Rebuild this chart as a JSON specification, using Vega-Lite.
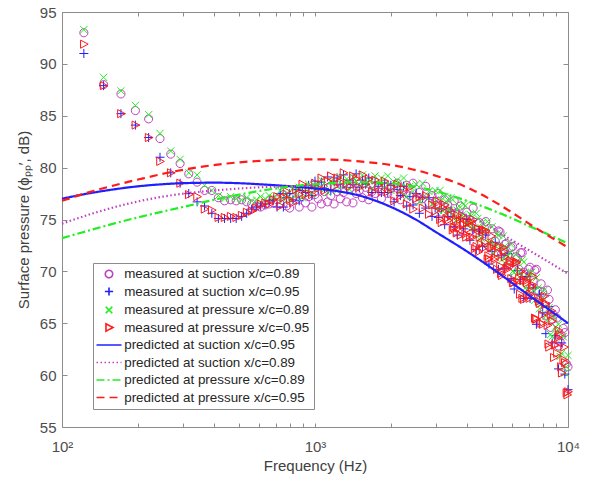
{
"$schema": "https://vega.github.io/schema/vega-lite/v6.json",
"width": 506, "height": 415,
"autosize": {"type": "none"},
"padding": {"left": 62, "top": 12, "right": 22, "bottom": 52},
"background": "white",
"config": {
  "view": {"stroke": "#8c8c8c", "strokeWidth": 1},
  "axis": {"grid": false, "domain": false, "tickColor": "#8c8c8c", "tickWidth": 1, "labelColor": "#4d4d4d", "titleColor": "#404040", "labelFont": "Liberation Sans", "titleFont": "Liberation Sans", "labelFontSize": 15, "titleFontSize": 15, "titleFontWeight": "normal"}
},
"datasets": {
"measured": [
{"s":"a","f":122,"v":93.0},{"s":"a","f":146,"v":88.0},{"s":"a","f":171,"v":87.1},{"s":"a","f":195,"v":85.5},{"s":"a","f":220,"v":84.7},{"s":"a","f":244,"v":82.8},{"s":"a","f":269,"v":81.3},{"s":"a","f":293,"v":80.4},{"s":"a","f":317,"v":79.4},{"s":"a","f":342,"v":78.6},{"s":"a","f":366,"v":77.8},{"s":"a","f":391,"v":77.8},{"s":"a","f":415,"v":77.1},{"s":"a","f":439,"v":76.8},{"s":"a","f":464,"v":76.9},{"s":"a","f":488,"v":76.8},{"s":"a","f":513,"v":76.9},{"s":"a","f":537,"v":76.7},{"s":"a","f":562,"v":76.5},{"s":"a","f":586,"v":76.3},{"s":"a","f":610,"v":76.2},{"s":"a","f":635,"v":76.4},{"s":"a","f":659,"v":76.5},{"s":"a","f":684,"v":76.6},
{"s":"a","f":708,"v":76.9},{"s":"a","f":729,"v":76.5},{"s":"a","f":750,"v":77.4},{"s":"a","f":772,"v":76.3},{"s":"a","f":794,"v":76.1},{"s":"a","f":818,"v":77.1},{"s":"a","f":841,"v":76.9},{"s":"a","f":866,"v":76.2},{"s":"a","f":891,"v":77.4},{"s":"a","f":917,"v":76.6},
{"s":"a","f":944,"v":77.2},{"s":"a","f":972,"v":76.2},{"s":"a","f":1000,"v":77.4},{"s":"a","f":1029,"v":77.0},{"s":"a","f":1059,"v":76.5},{"s":"a","f":1090,"v":77.7},{"s":"a","f":1122,"v":76.7},{"s":"a","f":1155,"v":77.3},{"s":"a","f":1189,"v":76.5},{"s":"a","f":1223,"v":77.7},
{"s":"a","f":1259,"v":77.0},{"s":"a","f":1296,"v":77.6},{"s":"a","f":1334,"v":76.7},{"s":"a","f":1372,"v":78.0},{"s":"a","f":1413,"v":76.6},{"s":"a","f":1454,"v":77.5},{"s":"a","f":1496,"v":77.8},{"s":"a","f":1540,"v":77.1},{"s":"a","f":1585,"v":78.1},{"s":"a","f":1631,"v":76.9},
{"s":"a","f":1679,"v":77.7},{"s":"a","f":1728,"v":77.5},{"s":"a","f":1778,"v":78.1},{"s":"a","f":1830,"v":77.0},{"s":"a","f":1884,"v":78.4},{"s":"a","f":1939,"v":77.5},{"s":"a","f":1995,"v":78.1},{"s":"a","f":2054,"v":77.3},{"s":"a","f":2113,"v":78.5},{"s":"a","f":2175,"v":76.9},
{"s":"a","f":2239,"v":77.9},{"s":"a","f":2304,"v":78.3},{"s":"a","f":2371,"v":77.3},{"s":"a","f":2441,"v":78.5},{"s":"a","f":2512,"v":76.9},{"s":"a","f":2585,"v":77.6},{"s":"a","f":2661,"v":77.0},{"s":"a","f":2738,"v":78.2},{"s":"a","f":2818,"v":76.6},{"s":"a","f":2901,"v":77.3},
{"s":"a","f":2985,"v":76.7},{"s":"a","f":3073,"v":77.5},{"s":"a","f":3162,"v":75.7},{"s":"a","f":3255,"v":76.9},{"s":"a","f":3350,"v":76.4},{"s":"a","f":3447,"v":75.6},{"s":"a","f":3548,"v":76.8},{"s":"a","f":3652,"v":75.5},{"s":"a","f":3758,"v":76.3},{"s":"a","f":3868,"v":74.7},
{"s":"a","f":3981,"v":75.7},{"s":"a","f":4097,"v":75.0},{"s":"a","f":4217,"v":76.1},{"s":"a","f":4340,"v":73.7},{"s":"a","f":4467,"v":74.7},{"s":"a","f":4597,"v":73.6},{"s":"a","f":4732,"v":74.8},{"s":"a","f":4870,"v":72.4},{"s":"a","f":5012,"v":74.1},{"s":"a","f":5158,"v":72.9},
{"s":"a","f":5309,"v":73.9},{"s":"a","f":5464,"v":71.7},{"s":"a","f":5623,"v":72.6},{"s":"a","f":5788,"v":71.5},{"s":"a","f":5957,"v":72.3},{"s":"a","f":6131,"v":70.4},{"s":"a","f":6310,"v":71.3},{"s":"a","f":6494,"v":71.8},{"s":"a","f":6683,"v":69.9},{"s":"a","f":6879,"v":68.8},
{"s":"a","f":7079,"v":70.4},{"s":"a","f":7286,"v":69.1},{"s":"a","f":7499,"v":70.2},{"s":"a","f":7718,"v":67.3},{"s":"a","f":7943,"v":68.0},{"s":"a","f":8175,"v":65.7},{"s":"a","f":8414,"v":67.3},{"s":"a","f":8660,"v":65.4},{"s":"a","f":8913,"v":66.3},{"s":"a","f":9173,"v":62.8},
{"s":"a","f":9441,"v":63.8},{"s":"a","f":9716,"v":64.1},{"s":"a","f":10000,"v":60.8},
{"s":"a","f":5386,"v":73.8},{"s":"a","f":5543,"v":72.0},{"s":"a","f":5704,"v":72.7},{"s":"a","f":5872,"v":70.6},{"s":"a","f":6043,"v":72.4},{"s":"a","f":6220,"v":71.4},{"s":"a","f":6401,"v":70.2},{"s":"a","f":6588,"v":71.8},{"s":"a","f":6780,"v":69.7},{"s":"a","f":6979,"v":70.2},{"s":"a","f":7182,"v":68.3},{"s":"a","f":7392,"v":70.1},{"s":"a","f":7608,"v":68.1},{"s":"a","f":7830,"v":68.8},{"s":"a","f":8058,"v":66.2},{"s":"a","f":8293,"v":68.2},{"s":"a","f":8536,"v":64.6},{"s":"a","f":8785,"v":65.8},{"s":"a","f":9042,"v":65.5},{"s":"a","f":9306,"v":63.2},{"s":"a","f":9578,"v":64.5},{"s":"a","f":9857,"v":61.1},
{"s":"b","f":122,"v":91.0},{"s":"b","f":146,"v":87.9},{"s":"b","f":171,"v":85.2},{"s":"b","f":195,"v":84.1},{"s":"b","f":220,"v":82.9},{"s":"b","f":244,"v":81.0},{"s":"b","f":269,"v":79.5},{"s":"b","f":293,"v":78.5},{"s":"b","f":317,"v":77.5},{"s":"b","f":342,"v":76.7},{"s":"b","f":366,"v":76.3},{"s":"b","f":391,"v":75.6},{"s":"b","f":415,"v":75.1},{"s":"b","f":439,"v":75.1},{"s":"b","f":464,"v":75.1},{"s":"b","f":488,"v":75.1},{"s":"b","f":513,"v":75.3},{"s":"b","f":537,"v":75.6},{"s":"b","f":562,"v":76.0},{"s":"b","f":586,"v":76.2},{"s":"b","f":610,"v":76.3},{"s":"b","f":635,"v":76.5},{"s":"b","f":659,"v":76.8},{"s":"b","f":684,"v":76.9},
{"s":"b","f":708,"v":76.2},{"s":"b","f":729,"v":77.5},{"s":"b","f":750,"v":76.2},{"s":"b","f":772,"v":77.1},{"s":"b","f":794,"v":77.5},{"s":"b","f":818,"v":76.9},{"s":"b","f":841,"v":77.9},{"s":"b","f":866,"v":76.8},{"s":"b","f":891,"v":77.8},{"s":"b","f":917,"v":77.6},
{"s":"b","f":944,"v":78.3},{"s":"b","f":972,"v":77.3},{"s":"b","f":1000,"v":78.7},{"s":"b","f":1029,"v":77.9},{"s":"b","f":1059,"v":78.6},{"s":"b","f":1090,"v":78.0},{"s":"b","f":1122,"v":79.1},{"s":"b","f":1155,"v":77.8},{"s":"b","f":1189,"v":78.7},{"s":"b","f":1223,"v":79.0},
{"s":"b","f":1259,"v":78.4},{"s":"b","f":1296,"v":79.3},{"s":"b","f":1334,"v":78.1},{"s":"b","f":1372,"v":78.8},{"s":"b","f":1413,"v":78.4},{"s":"b","f":1454,"v":79.4},{"s":"b","f":1496,"v":78.1},{"s":"b","f":1540,"v":78.8},{"s":"b","f":1585,"v":78.4},{"s":"b","f":1631,"v":79.0},
{"s":"b","f":1679,"v":77.6},{"s":"b","f":1728,"v":78.6},{"s":"b","f":1778,"v":78.2},{"s":"b","f":1830,"v":77.6},{"s":"b","f":1884,"v":78.5},{"s":"b","f":1939,"v":77.6},{"s":"b","f":1995,"v":78.3},{"s":"b","f":2054,"v":76.7},{"s":"b","f":2113,"v":77.9},{"s":"b","f":2175,"v":77.3},
{"s":"b","f":2239,"v":78.2},{"s":"b","f":2304,"v":76.3},{"s":"b","f":2371,"v":77.2},{"s":"b","f":2441,"v":76.4},{"s":"b","f":2512,"v":77.5},{"s":"b","f":2585,"v":75.6},{"s":"b","f":2661,"v":77.1},{"s":"b","f":2738,"v":76.1},{"s":"b","f":2818,"v":77.1},{"s":"b","f":2901,"v":75.3},
{"s":"b","f":2985,"v":76.1},{"s":"b","f":3073,"v":75.2},{"s":"b","f":3162,"v":76.0},{"s":"b","f":3255,"v":74.5},{"s":"b","f":3350,"v":75.3},{"s":"b","f":3447,"v":75.8},{"s":"b","f":3548,"v":74.3},{"s":"b","f":3652,"v":73.5},{"s":"b","f":3758,"v":75.1},{"s":"b","f":3868,"v":74.1},
{"s":"b","f":3981,"v":75.0},{"s":"b","f":4097,"v":73.0},{"s":"b","f":4217,"v":74.0},{"s":"b","f":4340,"v":72.1},{"s":"b","f":4467,"v":73.9},{"s":"b","f":4597,"v":72.4},{"s":"b","f":4732,"v":73.5},{"s":"b","f":4870,"v":70.7},{"s":"b","f":5012,"v":71.9},{"s":"b","f":5158,"v":72.8},
{"s":"b","f":5309,"v":70.2},{"s":"b","f":5464,"v":71.5},{"s":"b","f":5623,"v":70.3},{"s":"b","f":5788,"v":71.7},{"s":"b","f":5957,"v":69.3},{"s":"b","f":6131,"v":68.3},{"s":"b","f":6310,"v":70.1},{"s":"b","f":6494,"v":69.2},{"s":"b","f":6683,"v":67.4},{"s":"b","f":6879,"v":69.5},
{"s":"b","f":7079,"v":67.4},{"s":"b","f":7286,"v":68.4},{"s":"b","f":7499,"v":64.9},{"s":"b","f":7718,"v":67.8},{"s":"b","f":7943,"v":66.0},{"s":"b","f":8175,"v":64.0},{"s":"b","f":8414,"v":66.6},{"s":"b","f":8660,"v":63.1},{"s":"b","f":8913,"v":63.8},{"s":"b","f":9173,"v":60.6},
{"s":"b","f":9441,"v":63.1},{"s":"b","f":9716,"v":60.1},{"s":"b","f":10000,"v":58.6},
{"s":"c","f":122,"v":93.3},{"s":"c","f":146,"v":88.7},{"s":"c","f":171,"v":87.4},{"s":"c","f":195,"v":86.0},{"s":"c","f":220,"v":85.1},{"s":"c","f":244,"v":83.3},{"s":"c","f":269,"v":81.6},{"s":"c","f":293,"v":80.8},{"s":"c","f":317,"v":79.5},{"s":"c","f":342,"v":79.3},{"s":"c","f":366,"v":78.3},{"s":"c","f":391,"v":77.8},{"s":"c","f":415,"v":77.3},{"s":"c","f":439,"v":77.0},{"s":"c","f":464,"v":77.2},{"s":"c","f":488,"v":77.0},{"s":"c","f":513,"v":76.9},{"s":"c","f":537,"v":77.1},{"s":"c","f":562,"v":76.8},{"s":"c","f":586,"v":76.9},{"s":"c","f":610,"v":77.2},{"s":"c","f":635,"v":77.0},{"s":"c","f":659,"v":77.3},{"s":"c","f":684,"v":77.1},
{"s":"c","f":708,"v":77.0},{"s":"c","f":729,"v":77.8},{"s":"c","f":750,"v":76.9},{"s":"c","f":772,"v":77.5},{"s":"c","f":794,"v":76.9},{"s":"c","f":818,"v":77.9},{"s":"c","f":841,"v":77.3},{"s":"c","f":866,"v":78.1},{"s":"c","f":891,"v":77.1},{"s":"c","f":917,"v":77.9},
{"s":"c","f":944,"v":78.4},{"s":"c","f":972,"v":77.5},{"s":"c","f":1000,"v":78.2},{"s":"c","f":1029,"v":78.0},{"s":"c","f":1059,"v":78.8},{"s":"c","f":1090,"v":77.9},{"s":"c","f":1122,"v":77.6},{"s":"c","f":1155,"v":78.7},{"s":"c","f":1189,"v":78.5},{"s":"c","f":1223,"v":77.8},
{"s":"c","f":1259,"v":79.1},{"s":"c","f":1296,"v":78.3},{"s":"c","f":1334,"v":78.9},{"s":"c","f":1372,"v":77.9},{"s":"c","f":1413,"v":79.1},{"s":"c","f":1454,"v":78.7},{"s":"c","f":1496,"v":78.2},{"s":"c","f":1540,"v":79.3},{"s":"c","f":1585,"v":78.3},{"s":"c","f":1631,"v":78.8},
{"s":"c","f":1679,"v":78.0},{"s":"c","f":1728,"v":79.2},{"s":"c","f":1778,"v":78.5},{"s":"c","f":1830,"v":79.0},{"s":"c","f":1884,"v":78.1},{"s":"c","f":1939,"v":79.2},{"s":"c","f":1995,"v":77.8},{"s":"c","f":2054,"v":78.6},{"s":"c","f":2113,"v":78.8},{"s":"c","f":2175,"v":77.7},
{"s":"c","f":2239,"v":79.0},{"s":"c","f":2304,"v":77.2},{"s":"c","f":2371,"v":78.2},{"s":"c","f":2441,"v":77.7},{"s":"c","f":2512,"v":78.4},{"s":"c","f":2585,"v":76.7},{"s":"c","f":2661,"v":78.5},{"s":"c","f":2738,"v":77.1},{"s":"c","f":2818,"v":77.7},{"s":"c","f":2901,"v":76.5},
{"s":"c","f":2985,"v":77.8},{"s":"c","f":3073,"v":75.9},{"s":"c","f":3162,"v":76.9},{"s":"c","f":3255,"v":77.2},{"s":"c","f":3350,"v":76.0},{"s":"c","f":3447,"v":77.1},{"s":"c","f":3548,"v":75.2},{"s":"c","f":3652,"v":75.9},{"s":"c","f":3758,"v":75.2},{"s":"c","f":3868,"v":76.5},
{"s":"c","f":3981,"v":74.6},{"s":"c","f":4097,"v":75.5},{"s":"c","f":4217,"v":74.6},{"s":"c","f":4340,"v":75.6},{"s":"c","f":4467,"v":73.1},{"s":"c","f":4597,"v":74.7},{"s":"c","f":4732,"v":73.9},{"s":"c","f":4870,"v":72.7},{"s":"c","f":5012,"v":74.3},{"s":"c","f":5158,"v":72.5},
{"s":"c","f":5309,"v":73.5},{"s":"c","f":5464,"v":71.1},{"s":"c","f":5623,"v":72.4},{"s":"c","f":5788,"v":71.5},{"s":"c","f":5957,"v":72.6},{"s":"c","f":6131,"v":69.9},{"s":"c","f":6310,"v":70.9},{"s":"c","f":6494,"v":69.6},{"s":"c","f":6683,"v":70.9},{"s":"c","f":6879,"v":68.2},
{"s":"c","f":7079,"v":69.8},{"s":"c","f":7286,"v":68.2},{"s":"c","f":7499,"v":69.4},{"s":"c","f":7718,"v":66.4},{"s":"c","f":7943,"v":67.4},{"s":"c","f":8175,"v":65.7},{"s":"c","f":8414,"v":66.5},{"s":"c","f":8660,"v":63.7},{"s":"c","f":8913,"v":64.6},{"s":"c","f":9173,"v":64.9},
{"s":"c","f":9441,"v":62.1},{"s":"c","f":9716,"v":60.2},{"s":"c","f":10000,"v":61.9},
{"s":"c","f":3028,"v":76.8},{"s":"c","f":3118,"v":77.8},{"s":"c","f":3208,"v":75.8},{"s":"c","f":3302,"v":76.7},{"s":"c","f":3399,"v":75.8},{"s":"c","f":3497,"v":76.9},{"s":"c","f":3599,"v":74.9},{"s":"c","f":3705,"v":76.3},{"s":"c","f":3812,"v":75.4},{"s":"c","f":3924,"v":76.3},{"s":"c","f":4039,"v":74.5},{"s":"c","f":4156,"v":75.4},{"s":"c","f":4278,"v":74.2},{"s":"c","f":4403,"v":75.1},{"s":"c","f":4532,"v":73.2},{"s":"c","f":4664,"v":74.2},{"s":"c","f":4801,"v":74.8},{"s":"c","f":4941,"v":72.8},{"s":"c","f":5085,"v":71.7},{"s":"c","f":5233,"v":73.6},{"s":"c","f":5386,"v":72.3},{"s":"c","f":5543,"v":73.4},{"s":"c","f":5704,"v":71.0},{"s":"c","f":5872,"v":71.8},{"s":"c","f":6043,"v":70.0},{"s":"c","f":6220,"v":71.6},{"s":"c","f":6401,"v":70.0},{"s":"c","f":6588,"v":71.1},{"s":"c","f":6780,"v":68.4},{"s":"c","f":6979,"v":69.4},{"s":"c","f":7182,"v":69.9},{"s":"c","f":7392,"v":67.2},{"s":"c","f":7608,"v":68.4},{"s":"c","f":7830,"v":66.9},{"s":"c","f":8058,"v":68.2},{"s":"c","f":8293,"v":65.2},{"s":"c","f":8536,"v":63.9},{"s":"c","f":8785,"v":65.6},{"s":"c","f":9042,"v":64.2},{"s":"c","f":9306,"v":61.8},{"s":"c","f":9578,"v":63.7},{"s":"c","f":9857,"v":60.8},
{"s":"d","f":122,"v":91.9},{"s":"d","f":146,"v":87.9},{"s":"d","f":171,"v":85.2},{"s":"d","f":195,"v":84.1},{"s":"d","f":220,"v":82.9},{"s":"d","f":244,"v":80.6},{"s":"d","f":269,"v":79.5},{"s":"d","f":293,"v":78.5},{"s":"d","f":317,"v":77.4},{"s":"d","f":342,"v":77.2},{"s":"d","f":366,"v":76.0},{"s":"d","f":391,"v":75.9},{"s":"d","f":415,"v":75.2},{"s":"d","f":439,"v":75.2},{"s":"d","f":464,"v":75.3},{"s":"d","f":488,"v":75.2},{"s":"d","f":513,"v":75.4},{"s":"d","f":537,"v":75.7},{"s":"d","f":562,"v":75.8},{"s":"d","f":586,"v":76.1},{"s":"d","f":610,"v":76.5},{"s":"d","f":635,"v":76.6},{"s":"d","f":659,"v":76.5},{"s":"d","f":684,"v":76.9},
{"s":"d","f":708,"v":77.2},{"s":"d","f":729,"v":76.3},{"s":"d","f":750,"v":77.1},{"s":"d","f":772,"v":77.7},{"s":"d","f":794,"v":76.9},{"s":"d","f":818,"v":76.6},{"s":"d","f":841,"v":77.9},{"s":"d","f":866,"v":77.4},{"s":"d","f":891,"v":78.4},{"s":"d","f":917,"v":77.4},
{"s":"d","f":944,"v":78.1},{"s":"d","f":972,"v":77.4},{"s":"d","f":1000,"v":78.5},{"s":"d","f":1029,"v":78.0},{"s":"d","f":1059,"v":79.0},{"s":"d","f":1090,"v":77.8},{"s":"d","f":1122,"v":78.7},{"s":"d","f":1155,"v":79.2},{"s":"d","f":1189,"v":78.2},{"s":"d","f":1223,"v":79.0},
{"s":"d","f":1259,"v":78.6},{"s":"d","f":1296,"v":79.5},{"s":"d","f":1334,"v":78.5},{"s":"d","f":1372,"v":78.2},{"s":"d","f":1413,"v":79.2},{"s":"d","f":1454,"v":78.9},{"s":"d","f":1496,"v":78.1},{"s":"d","f":1540,"v":79.3},{"s":"d","f":1585,"v":78.4},{"s":"d","f":1631,"v":78.9},
{"s":"d","f":1679,"v":77.7},{"s":"d","f":1728,"v":78.8},{"s":"d","f":1778,"v":78.3},{"s":"d","f":1830,"v":77.7},{"s":"d","f":1884,"v":78.7},{"s":"d","f":1939,"v":77.7},{"s":"d","f":1995,"v":78.1},{"s":"d","f":2054,"v":76.8},{"s":"d","f":2113,"v":78.4},{"s":"d","f":2175,"v":77.3},
{"s":"d","f":2239,"v":77.9},{"s":"d","f":2304,"v":76.5},{"s":"d","f":2371,"v":78.1},{"s":"d","f":2441,"v":76.0},{"s":"d","f":2512,"v":77.0},{"s":"d","f":2585,"v":77.2},{"s":"d","f":2661,"v":76.1},{"s":"d","f":2738,"v":77.3},{"s":"d","f":2818,"v":75.5},{"s":"d","f":2901,"v":76.4},
{"s":"d","f":2985,"v":75.8},{"s":"d","f":3073,"v":76.4},{"s":"d","f":3162,"v":74.7},{"s":"d","f":3255,"v":76.4},{"s":"d","f":3350,"v":74.9},{"s":"d","f":3447,"v":75.4},{"s":"d","f":3548,"v":74.2},{"s":"d","f":3652,"v":75.4},{"s":"d","f":3758,"v":73.5},{"s":"d","f":3868,"v":74.5},
{"s":"d","f":3981,"v":74.7},{"s":"d","f":4097,"v":73.3},{"s":"d","f":4217,"v":75.0},{"s":"d","f":4340,"v":72.4},{"s":"d","f":4467,"v":73.3},{"s":"d","f":4597,"v":72.2},{"s":"d","f":4732,"v":73.9},{"s":"d","f":4870,"v":71.2},{"s":"d","f":5012,"v":72.3},{"s":"d","f":5158,"v":71.3},
{"s":"d","f":5309,"v":72.4},{"s":"d","f":5464,"v":69.6},{"s":"d","f":5623,"v":71.4},{"s":"d","f":5788,"v":70.5},{"s":"d","f":5957,"v":69.3},{"s":"d","f":6131,"v":71.0},{"s":"d","f":6310,"v":69.0},{"s":"d","f":6494,"v":70.0},{"s":"d","f":6683,"v":67.3},{"s":"d","f":6879,"v":68.9},
{"s":"d","f":7079,"v":67.8},{"s":"d","f":7286,"v":69.5},{"s":"d","f":7499,"v":65.4},{"s":"d","f":7718,"v":66.9},{"s":"d","f":7943,"v":64.9},{"s":"d","f":8175,"v":66.9},{"s":"d","f":8414,"v":62.7},{"s":"d","f":8660,"v":65.2},{"s":"d","f":8913,"v":62.9},{"s":"d","f":9173,"v":64.3},
{"s":"d","f":9441,"v":60.2},{"s":"d","f":9716,"v":61.2},{"s":"d","f":10000,"v":58.4},
{"s":"d","f":3028,"v":76.8},{"s":"d","f":3118,"v":75.0},{"s":"d","f":3208,"v":76.1},{"s":"d","f":3302,"v":75.1},{"s":"d","f":3399,"v":75.9},{"s":"d","f":3497,"v":74.0},{"s":"d","f":3599,"v":75.0},{"s":"d","f":3705,"v":74.2},{"s":"d","f":3812,"v":75.4},{"s":"d","f":3924,"v":73.6},{"s":"d","f":4039,"v":74.1},{"s":"d","f":4156,"v":74.8},{"s":"d","f":4278,"v":72.2},{"s":"d","f":4403,"v":74.1},{"s":"d","f":4532,"v":72.6},{"s":"d","f":4664,"v":74.0},{"s":"d","f":4801,"v":71.2},{"s":"d","f":4941,"v":72.3},{"s":"d","f":5085,"v":72.6},{"s":"d","f":5233,"v":70.2},{"s":"d","f":5386,"v":70.5},{"s":"d","f":5543,"v":72.3},{"s":"d","f":5704,"v":70.3},{"s":"d","f":5872,"v":70.8},{"s":"d","f":6043,"v":68.9},{"s":"d","f":6220,"v":70.8},{"s":"d","f":6401,"v":69.3},{"s":"d","f":6588,"v":67.4},{"s":"d","f":6780,"v":69.6},{"s":"d","f":6979,"v":67.7},{"s":"d","f":7182,"v":68.5},{"s":"d","f":7392,"v":65.5},{"s":"d","f":7608,"v":67.4},{"s":"d","f":7830,"v":65.0},{"s":"d","f":8058,"v":67.6},{"s":"d","f":8293,"v":64.8},{"s":"d","f":8536,"v":65.8},{"s":"d","f":8785,"v":61.7},{"s":"d","f":9042,"v":62.1},{"s":"d","f":9306,"v":63.9},{"s":"d","f":9578,"v":61.5},{"s":"d","f":9857,"v":58.3},
{"s":"d","f":3523,"v":74.3},{"s":"d","f":3626,"v":73.7},{"s":"d","f":3732,"v":75.0},{"s":"d","f":3841,"v":74.5},{"s":"d","f":3953,"v":73.3},{"s":"d","f":4069,"v":74.8},{"s":"d","f":4187,"v":73.3},{"s":"d","f":4310,"v":74.2},{"s":"d","f":4435,"v":71.9},{"s":"d","f":4565,"v":74.0},{"s":"d","f":4698,"v":72.8},{"s":"d","f":4836,"v":71.5},{"s":"d","f":4977,"v":73.4},{"s":"d","f":5122,"v":71.1},{"s":"d","f":5271,"v":71.8},{"s":"d","f":5426,"v":69.8},{"s":"d","f":5584,"v":71.9},{"s":"d","f":5747,"v":70.2},{"s":"d","f":5915,"v":71.0},{"s":"d","f":6088,"v":68.9},{"s":"d","f":6266,"v":70.9},{"s":"d","f":6449,"v":67.8},{"s":"d","f":6637,"v":69.1},{"s":"d","f":6830,"v":69.1},{"s":"d","f":7030,"v":67.4},{"s":"d","f":7235,"v":68.7},{"s":"d","f":7446,"v":65.4},{"s":"d","f":7664,"v":67.1},{"s":"d","f":7888,"v":65.8},{"s":"d","f":8118,"v":66.8},{"s":"d","f":8355,"v":63.0},{"s":"d","f":8599,"v":66.2},{"s":"d","f":8851,"v":62.9},{"s":"d","f":9109,"v":63.6},{"s":"d","f":9375,"v":60.8},{"s":"d","f":9649,"v":62.7},{"s":"d","f":9930,"v":58.1}
],
"predicted": [
{"s":"e","f":100,"v":77.0},{"s":"e","f":120,"v":77.4},{"s":"e","f":150,"v":77.8},{"s":"e","f":200,"v":78.2},{"s":"e","f":250,"v":78.4},{"s":"e","f":300,"v":78.5},{"s":"e","f":400,"v":78.55},{"s":"e","f":500,"v":78.5},{"s":"e","f":600,"v":78.4},{"s":"e","f":800,"v":78.2},{"s":"e","f":1000,"v":78.0},{"s":"e","f":1250,"v":77.7},{"s":"e","f":1500,"v":77.3},{"s":"e","f":2000,"v":76.2},{"s":"e","f":2500,"v":75.0},{"s":"e","f":3000,"v":73.8},{"s":"e","f":4000,"v":71.9},{"s":"e","f":5000,"v":70.3},{"s":"e","f":6000,"v":68.9},{"s":"e","f":7000,"v":67.7},{"s":"e","f":8000,"v":66.7},{"s":"e","f":9000,"v":65.8},{"s":"e","f":10000,"v":65.0},
{"s":"f","f":100,"v":74.6},{"s":"f","f":133,"v":75.6},{"s":"f","f":181,"v":76.5},{"s":"f","f":250,"v":77.2},{"s":"f","f":330,"v":77.6},{"s":"f","f":450,"v":77.9},{"s":"f","f":600,"v":78.1},{"s":"f","f":800,"v":78.2},{"s":"f","f":1000,"v":78.3},{"s":"f","f":1500,"v":78.2},{"s":"f","f":2000,"v":77.9},{"s":"f","f":2500,"v":77.4},{"s":"f","f":3000,"v":76.8},{"s":"f","f":4000,"v":75.4},{"s":"f","f":5000,"v":74.2},{"s":"f","f":6000,"v":73.0},{"s":"f","f":7000,"v":72.05},{"s":"f","f":8000,"v":71.2},{"s":"f","f":9000,"v":70.45},{"s":"f","f":10000,"v":69.75},
{"s":"g","f":100,"v":73.2},{"s":"g","f":120,"v":73.75},{"s":"g","f":160,"v":74.6},{"s":"g","f":220,"v":75.45},{"s":"g","f":300,"v":76.2},{"s":"g","f":400,"v":76.9},{"s":"g","f":540,"v":77.55},{"s":"g","f":730,"v":78.05},{"s":"g","f":1000,"v":78.4},{"s":"g","f":1500,"v":78.6},{"s":"g","f":2167,"v":78.4},{"s":"g","f":2926,"v":77.8},{"s":"g","f":3988,"v":76.8},{"s":"g","f":5383,"v":75.6},{"s":"g","f":7276,"v":74.2},{"s":"g","f":10000,"v":72.7},
{"s":"h","f":100,"v":76.8},{"s":"h","f":133,"v":77.75},{"s":"h","f":181,"v":78.6},{"s":"h","f":217,"v":79.05},{"s":"h","f":267,"v":79.55},{"s":"h","f":329,"v":79.95},{"s":"h","f":449,"v":80.4},{"s":"h","f":606,"v":80.65},{"s":"h","f":1000,"v":80.8},{"s":"h","f":1500,"v":80.6},{"s":"h","f":2167,"v":80.1},{"s":"h","f":2926,"v":79.3},{"s":"h","f":3988,"v":78.1},{"s":"h","f":5383,"v":76.4},{"s":"h","f":7276,"v":74.35},{"s":"h","f":10000,"v":72.3}
]
},
"layer": [
{
  "data": {"name": "measured"},
  "mark": {"type": "point", "filled": false, "size": 36, "strokeWidth": 1, "opacity": 1},
  "encoding": {
    "x": {"field": "f", "type": "quantitative", "scale": {"type": "log", "domain": [100, 10000], "nice": false},
      "axis": {"orient": "bottom", "values": [100,200,300,400,500,600,700,800,900,1000,2000,3000,4000,5000,6000,7000,8000,9000,10000],
        "labelExpr": "datum.value == 100 ? '10²' : datum.value == 1000 ? '10³' : datum.value == 10000 ? '10⁴' : ''",
        "labelFlush": false, "labelOverlap": false, "tickSize": -4, "labelPadding": 16, "title": "Frequency (Hz)", "titlePadding": 4}},
    "y": {"field": "v", "type": "quantitative", "scale": {"domain": [55, 95], "nice": false, "zero": false},
      "axis": {"orient": "left", "values": [55,60,65,70,75,80,85,90,95], "labelFlush": false, "tickSize": -5, "labelPadding": 11,
        "title": "Surface pressure (ϕₚₚ′, dB)", "titlePadding": 8}},
    "color": {"field": "s", "type": "nominal",
      "scale": {"domain": ["a","b","c","d","e","f","g","h"], "range": ["#c040c0","#1f1fff","#22ee22","#ff1a1a","#1f1fff","#c040c0","#22ee22","#ff1a1a"]},
      "legend": {
        "title": null, "orient": "none", "legendX": 31, "legendY": 251, "padding": 4.3,
        "strokeColor": "#8c8c8c", "fillColor": "white",
        "symbolSize": 30, "symbolOffset": 5, "symbolOpacity": 1, "symbolStrokeWidth": 1.6,
        "labelFont": "Liberation Sans", "labelFontSize": 13.4, "labelColor": "#262626", "labelOffset": 8.5, "labelLimit": 300,
        "rowPadding": 2.5,
        "labelExpr": "['measured at suction x/c=0.89','measured at suction x/c=0.95','measured at pressure x/c=0.89','measured at pressure x/c=0.95','predicted at suction x/c=0.95','predicted at suction x/c=0.89','predicted at pressure x/c=0.89','predicted at pressure x/c=0.95'][indexof(['a','b','c','d','e','f','g','h'], datum.value)]"
      }},
    "shape": {"field": "s", "type": "nominal",
      "scale": {"domain": ["a","b","c","d","e","f","g","h"], "range": ["M1.35,0A1.35,1.35,0,1,1,-1.35,0A1.35,1.35,0,1,1,1.35,0Z","M-1.5,0L1.5,0M0,-1.5L0,1.5","M-1.2,-1.2L1.2,1.2M-1.2,1.2L1.2,-1.2","M-1.1,-1.35L1.45,0L-1.1,1.35Z","M-4.56,0L4.56,0","M-4.56,0L4.56,0","M-4.56,0L4.56,0","M-4.56,0L4.56,0"]}}
  }
},
{
  "data": {"name": "predicted"},
  "mark": {"type": "line", "interpolate": "monotone", "strokeWidth": 2.2},
  "encoding": {
    "x": {"field": "f", "type": "quantitative", "scale": {"type": "log", "domain": [100, 10000], "nice": false},
      "axis": {"orient": "top", "values": [100,200,300,400,500,600,700,800,900,1000,2000,3000,4000,5000,6000,7000,8000,9000,10000], "labels": false, "title": null, "tickSize": -4}},
    "y": {"field": "v", "type": "quantitative", "scale": {"domain": [55, 95], "nice": false, "zero": false},
      "axis": {"orient": "right", "values": [55,60,65,70,75,80,85,90,95], "labels": false, "title": null, "tickSize": -5}},
    "color": {"field": "s", "type": "nominal",
      "scale": {"domain": ["a","b","c","d","e","f","g","h"], "range": ["#c040c0","#1f1fff","#22ee22","#ff1a1a","#1f1fff","#c040c0","#22ee22","#ff1a1a"]}},
    "strokeDash": {"field": "s", "type": "nominal",
      "scale": {"domain": ["a","b","c","d","e","f","g","h"], "range": [[1,0],[1,0],[1,0],[1,0],[1,0],[1.5,2.5],[8,3,2,3],[8,5]]}}
  }
}
],
"resolve": {"axis": {"x": "independent", "y": "independent"}}
}
